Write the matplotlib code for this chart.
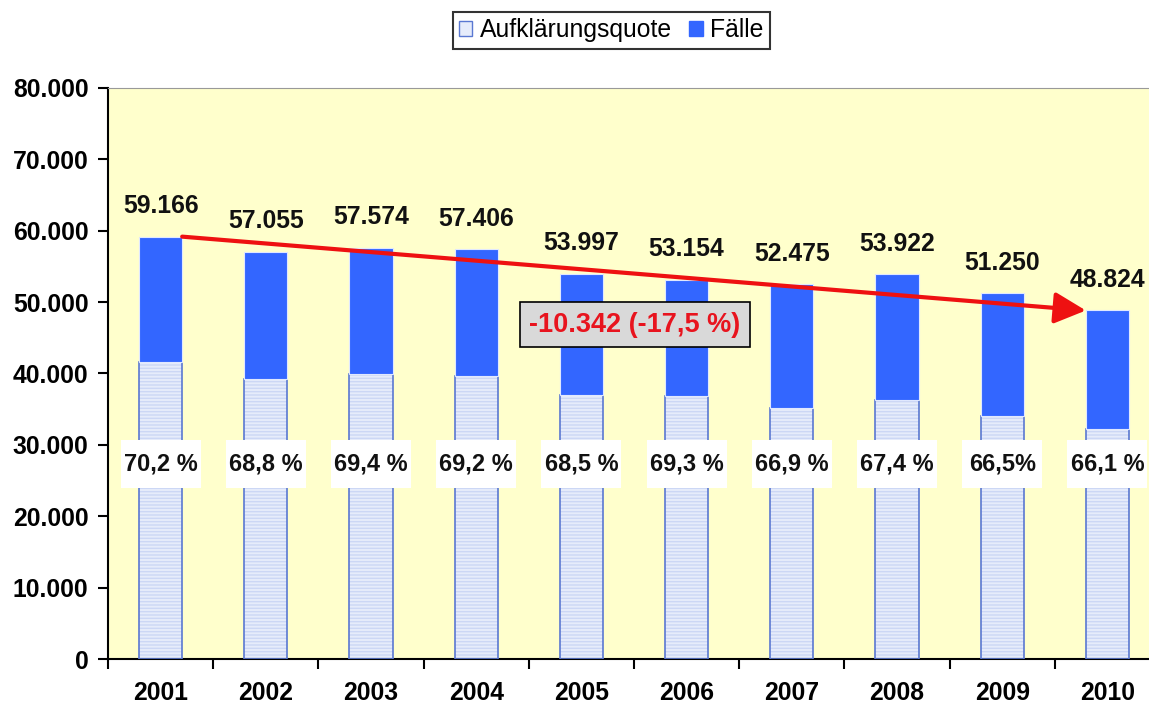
import matplotlib
matplotlib.use("Agg")
import matplotlib.pyplot as plt
from matplotlib.patches import Patch
import numpy as np

# data
years = ["2001", "2002", "2003", "2004", "2005", "2006", "2007", "2008", "2009", "2010"]
faelle = [59166, 57055, 57574, 57406, 53997, 53154, 52475, 53922, 51250, 48824]
aufgeklaert = [41550, 39250, 39950, 39700, 37000, 36850, 35100, 36350, 34100, 32250]
quote_labels = ["70,2 %", "68,8 %", "69,4 %", "69,2 %", "68,5 %", "69,3 %",
                "66,9 %", "67,4 %", "66,5%", "66,1 %"]
faelle_labels = ["59.166", "57.055", "57.574", "57.406", "53.997", "53.154",
                 "52.475", "53.922", "51.250", "48.824"]
trend_text = "-10.342 (-17,5 %)"

plt.rcParams["font.family"] = ["Liberation Sans", "DejaVu Sans"]

# colours
col_bg = "#FFFFCC"
col_blue = "#3366FF"
col_light = "#E6ECFB"
col_hatch = "#CCD7F5"
col_edge = "#5A78D2"

fs = 17.8

fig = plt.figure(figsize=(11.49, 7.09), dpi=100)
ax = fig.add_axes([0.094, 0.0705, 0.9156, 0.8055])
ax.set_facecolor(col_bg)

x = np.arange(len(years))
bar_w = 0.41

# lower part: cleared cases (hatched light blue)
ax.bar(x, aufgeklaert, width=bar_w, color=col_light, edgecolor=col_hatch,
       hatch="-----", linewidth=0, zorder=2)
ax.bar(x, aufgeklaert, width=bar_w, fill=False, edgecolor=col_edge,
       linewidth=1.2, zorder=3)

# upper part: remaining cases (solid blue)
rest = [f - a for f, a in zip(faelle, aufgeklaert)]
ax.bar(x, rest, bottom=aufgeklaert, width=bar_w, color=col_blue,
       edgecolor="#E0E8FF", linewidth=0.8, zorder=3)

# total labels above the bars
for xi, val, lab in zip(x, faelle, faelle_labels):
    ax.annotate(lab, (xi, val), xytext=(0, 22), textcoords="offset points",
                ha="center", va="center", fontsize=fs, fontweight="bold",
                color="#111111", zorder=6)

# quote labels in white boxes
ax.bar(x, 6700, bottom=23950, width=0.76, color="white", linewidth=0, zorder=5)
for xi, lab in zip(x, quote_labels):
    ax.text(xi, 27350, lab, ha="center", va="center", fontsize=17,
            fontweight="bold", color="#111111", zorder=6)

# trend arrow from first to last year
ax.annotate("", xy=(x[-1] - bar_w / 2, faelle[-1]),
            xytext=(x[0] + bar_w / 2, faelle[0]),
            arrowprops=dict(arrowstyle="-|>", color="#EE1111", lw=3,
                            mutation_scale=48, shrinkA=0, shrinkB=0),
            zorder=5)

# trend label
ax.text(4.51, 46800, trend_text, ha="center", va="center", fontsize=19.5,
        fontweight="bold", color="#E8141E", zorder=6,
        bbox=dict(boxstyle="square,pad=0.35", facecolor="#D9D9D9",
                  edgecolor="black", linewidth=1.2))

# axes
ax.set_xlim(-0.5, len(years) - 0.5)
ax.set_ylim(0, 80000)
ax.set_yticks(np.arange(0, 80001, 10000))
ax.set_yticklabels(["0" if v == 0 else f"{v // 1000}.000" for v in range(0, 80001, 10000)],
                   fontsize=fs, fontweight="bold")
ax.set_xticks(x)
ax.set_xticklabels(years, fontsize=fs, fontweight="bold")
ax.tick_params(axis="x", which="major", length=0, pad=16)
ax.set_xticks(np.arange(-0.5, len(years), 1), minor=True)
ax.tick_params(axis="x", which="minor", length=7, width=1.5)
ax.tick_params(axis="y", length=7, width=1.5, pad=7)

for s in ["left", "bottom"]:
    ax.spines[s].set_linewidth(1.5)
    ax.spines[s].set_color("black")
ax.spines["top"].set_color("#999999")
ax.spines["right"].set_visible(False)

# legend at the top
handles = [Patch(facecolor=col_light, edgecolor=col_edge, label="Aufklärungsquote"),
           Patch(facecolor=col_blue, edgecolor=col_blue, label="Fälle")]
leg = fig.legend(handles=handles, loc="center", bbox_to_anchor=(0.532, 0.957),
                 ncol=2, fontsize=fs, frameon=True, fancybox=False,
                 edgecolor="black", handlelength=0.55, handleheight=0.55,
                 handletextpad=0.3, columnspacing=0.7, borderpad=0.25)
leg.get_frame().set_linewidth(1.5)

fig.savefig("out.png", dpi=100)
plt.close(fig)
